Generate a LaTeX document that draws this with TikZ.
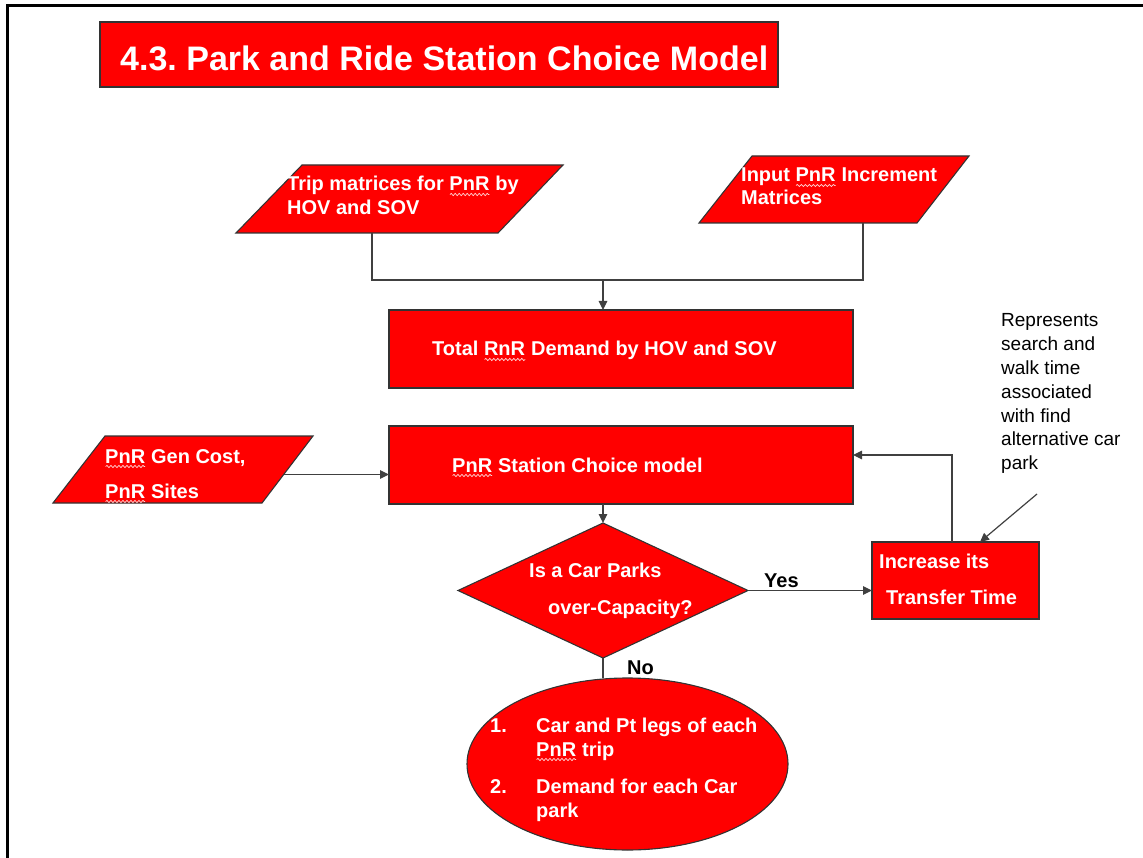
\documentclass[tikz,border=0pt]{standalone}
\usepackage{fontspec}
\setmainfont{Liberation Sans}
\usetikzlibrary{shapes.geometric,arrows.meta,decorations.pathmorphing}
\definecolor{pred}{RGB}{255,0,0}
\definecolor{squig}{RGB}{255,215,215}
\newcommand{\pnr}[1]{\tikz[baseline=(w.base),x=1pt,y=1pt]{\node[inner sep=0pt,outer sep=0pt,anchor=base west] (w) at (0,0) {#1};\draw[squig,line width=0.7pt,decorate,decoration={snake,amplitude=1.1pt,segment length=4pt}] (0.5,-3.5) -- (w.base east |- 0,-3.5);}}
\begin{document}
\frenchspacing
\begin{tikzpicture}[x=1pt,y=-1pt,
  shapebox/.style={draw=black!80, line width=1.1pt, fill=pred, inner sep=0pt, outer sep=0pt},
  wtxt/.style={text=white, font=\fontsize{20pt}{24pt}\selectfont\bfseries, inner sep=0pt, anchor=base west},
  btxt/.style={text=black, font=\fontsize{20pt}{24pt}\selectfont\bfseries, inner sep=0pt, anchor=base west},
  ntxt/.style={text=black, font=\fontsize{19pt}{23.8pt}\selectfont, inner sep=0pt, anchor=base west},
  conn/.style={draw=black!75, line width=1.2pt},
  arr/.style={conn, -{Triangle[length=9pt,width=8.5pt]}}
]
\useasboundingbox (0,0) rectangle (1143,858);
% frame
\draw[line width=3.5pt] (7.5,870) -- (7.5,5.5) -- (1150,5.5);

% title
\node[shapebox, minimum width=678pt, minimum height=65pt] (title) at (439,54.5) {};
\node[wtxt, font=\fontsize{34pt}{40pt}\selectfont\bfseries] (ttl) at (120,71) {4.3. Park and Ride Station Choice Model};

% input parallelograms
\draw[shapebox] (302,165) -- (563,165) -- (498,233) -- (236,233) -- cycle;
\coordinate (p1b) at (372,233);
\node[wtxt] (t1) at (287,191) {\begin{tabular}[t]{@{}l@{}}Trip matrices for \pnr{PnR} by\\HOV and SOV\end{tabular}};

\draw[shapebox] (752,156) -- (969,156) -- (917,223) -- (699,223) -- cycle;
\coordinate (p2b) at (863,223);
\node[wtxt] (t2) at (741,182) {\begin{tabular}[t]{@{}l@{}}Input \pnr{PnR} Increment\\[-1pt]Matrices\end{tabular}};

\draw[shapebox] (105,436) -- (313,436) -- (262,503) -- (53,503) -- cycle;
\coordinate (p3e) at (284,474.5);
\node[wtxt] (t3) at (105,463) {\begin{tabular}[t]{@{}l@{}}\pnr{PnR} Gen Cost,\\[11pt]\pnr{PnR} Sites\end{tabular}};

% boxes
\node[shapebox, minimum width=464pt, minimum height=78pt] (tot) at (621,349) {};
\node[wtxt] (t4) at (432,356) {Total \pnr{RnR} Demand by HOV and SOV};

\node[shapebox, minimum width=464pt, minimum height=78pt] (scm) at (621,465) {};
\node[wtxt] (t5) at (452,472) {\pnr{PnR} Station Choice model};

\node[shapebox, diamond, minimum width=290pt, minimum height=135pt] (dia) at (603,590.5) {};
\node[wtxt] (t6) at (529,577) {\begin{tabular}[t]{@{}l@{}}Is a Car Parks\\[13pt]\hspace{19pt}over-Capacity?\end{tabular}};

\node[shapebox, minimum width=167pt, minimum height=77pt] (inc) at (955.5,580.5) {};
\node[wtxt] (t7) at (879,568) {\begin{tabular}[t]{@{}l@{}}Increase its\\[12pt]\hspace{7pt}Transfer Time\end{tabular}};

\node[shapebox, ellipse, minimum width=321pt, minimum height=172pt] (ell) at (627.5,764) {};
\node[wtxt] (t8) at (490,732) {\begin{tabular}[t]{@{}p{46pt}@{}l@{}}1.&Car and Pt legs of each\\&\pnr{PnR} trip\\[13pt]2.&Demand for each Car\\&park\end{tabular}};

% annotation
\node[ntxt] (note) at (1001,327) {\begin{tabular}[t]{@{}l@{}}Represents\\search and\\walk time\\associated\\with find\\alternative car\\park\end{tabular}};

% connectors
\coordinate (jn) at (603,280);
\draw[conn] (p1b) |- (jn) -| (p2b);
\draw[arr] (jn) -- (jn |- tot.north);
\draw[arr] (p3e) -- (scm.west |- p3e);
\draw[arr] (dia.north |- scm.south) -- (dia.north);
\draw[arr] (dia.east) -- (inc.west |- dia.east);
\node[btxt] (yes) at (764,587) {Yes};
\coordinate (fb) at (952,455);
\draw[arr] (fb |- inc.north) -- (fb) -- (fb -| scm.east);
\draw[conn] (dia.south) -- (dia.south |- ell.north);
\node[btxt] (no) at (627,674) {No};
\coordinate (annstart) at (1037,494);
\coordinate (annx) at (980,0);
\draw[arr] (annstart) -- (annx |- inc.north);
\end{tikzpicture}
\end{document}
